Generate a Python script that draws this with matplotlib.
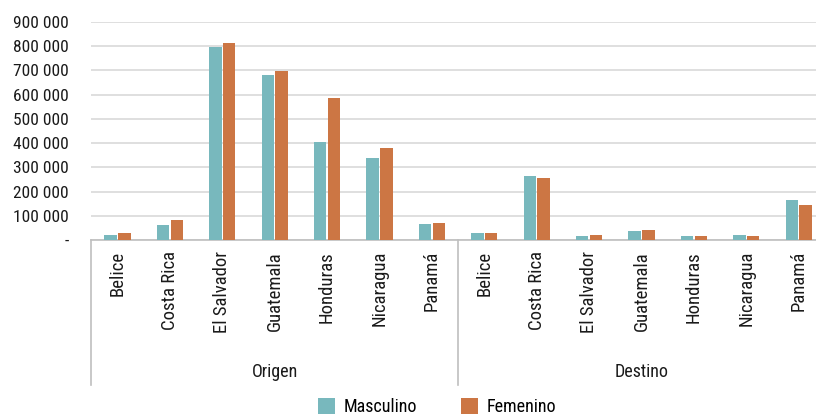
import matplotlib
matplotlib.use("Agg")
import matplotlib.pyplot as plt
import matplotlib.transforms as mtransforms
from matplotlib.ticker import FuncFormatter
import numpy as np

plt.rcParams['font.family'] = ['Roboto Condensed', 'Liberation Sans Narrow', 'Roboto', 'DejaVu Sans']

countries = ["Belice", "Costa Rica", "El Salvador", "Guatemala", "Honduras", "Nicaragua", "Panamá"]
groups = ["Origen", "Destino"]

# Origen then Destino, same country order
masculino = [21000, 62000, 797000, 682000, 405000, 339000, 66000,
             29000, 264000, 17000, 37000, 16000, 21000, 165000]
femenino = [30000, 83000, 814000, 698000, 587000, 380000, 70000,
            29000, 256000, 21000, 41000, 16000, 16000, 145000]

teal = "#78B8BD"
orange = "#CC7644"
grid_col = "#D9D9D9"
sep_col = "#BFBFBF"

W, H = 816, 416
fig = plt.figure(figsize=(W / 100, H / 100), dpi=100)
ax = fig.add_axes([91.3 / W, (H - 240) / H, 733.6 / W, 218 / H])

labels = countries * len(groups)
x = np.arange(len(labels))
bw = 0.235
gap = 0.03
ax.bar(x - bw / 2 - gap / 2, masculino, bw, color=teal, label="Masculino", zorder=3)
ax.bar(x + bw / 2 + gap / 2, femenino, bw, color=orange, label="Femenino", zorder=3)

ax.set_xlim(-0.5, len(labels) - 0.5)
ax.set_ylim(0, 900000)
ax.set_yticks(np.arange(0, 900001, 100000))
ax.yaxis.set_major_formatter(FuncFormatter(
    lambda v, p: "-" if v == 0 else f"{v:,.0f}".replace(",", " ")))
ax.yaxis.grid(True, color=grid_col, linewidth=1.2, zorder=0)
ax.set_axisbelow(True)

for s in ["left", "right", "top"]:
    ax.spines[s].set_visible(False)
ax.spines["bottom"].set_color(sep_col)
ax.spines["bottom"].set_linewidth(1.2)

ax.tick_params(axis="y", length=0, labelsize=12.5, pad=16, labelcolor="#1a1a1a")
ax.set_xticks(x)
ax.set_xticklabels(labels, rotation=90, va="top", ha="center")
ax.tick_params(axis="x", length=0, labelsize=13.5, pad=8, labelcolor="#1a1a1a")

# group separators and group names below the category labels
trans = mtransforms.blended_transform_factory(ax.transData, ax.transAxes)
bottom_y = -(385 - 240) / 218
n = len(countries)
for b in [-0.5, n - 0.5, 2 * n - 0.5]:
    ax.plot([b, b], [0, bottom_y], color=sep_col, linewidth=1.2,
            transform=trans, clip_on=False)
for i, g in enumerate(groups):
    ax.text(i * n + (n - 1) / 2, -(372 - 240) / 218, g, transform=trans,
            ha="center", va="center", fontsize=13, color="#1a1a1a")

fig.legend(loc="center", bbox_to_anchor=(437 / W, 1 - 407 / H), ncol=2,
           frameon=False, fontsize=13, handlelength=0.95, handleheight=0.95,
           handletextpad=0.5, columnspacing=2.4)

fig.savefig("out.png", dpi=100)
